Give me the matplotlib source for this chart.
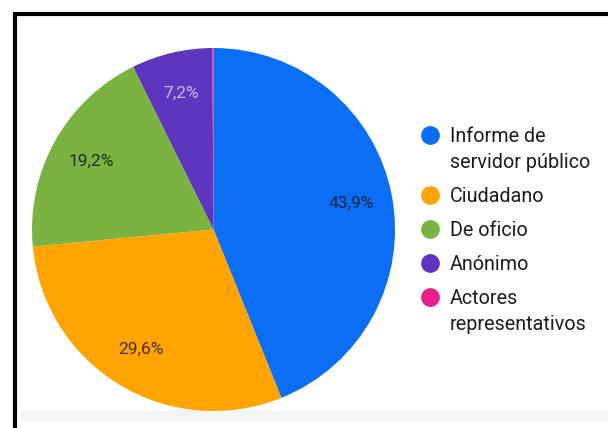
import matplotlib
matplotlib.use("Agg")
from matplotlib import pyplot as plt
from matplotlib.lines import Line2D

plt.rcParams['font.family'] = ['Roboto', 'DejaVu Sans']

# data
categories = ['Informe de\nservidor público', 'Ciudadano', 'De oficio', 'Anónimo',
              'Actores\nrepresentativos']
shares = [43.9, 29.6, 19.2, 7.2, 0.1]
colors = ['#0b6ef5', '#ffa400', '#7ab33f', '#5d35bf', '#ec1e8c']
label_colors = ['#10254a', '#4a3000', '#1f2d10', '#cbbcf0', '#ffffff']

W, H = 608, 428
fig = plt.figure(figsize=(W / 100, H / 100), dpi=100)

# pie: centre (213.5, 229.5) px, radius 181.5 px
cx, cy, r = 213.5, 229.5, 181.5
ax = fig.add_axes([(cx - r) / W, (H - cy - r) / H, 2 * r / W, 2 * r / H])


def fmt(p):
    if p < 1:
        return ''
    return ('%.1f%%' % p).replace('.', ',')


wedges, texts, autotexts = ax.pie(shares, colors=colors, startangle=90, counterclock=False,
                                  autopct=fmt, pctdistance=0.77, radius=1,
                                  wedgeprops=dict(linewidth=0),
                                  textprops=dict(fontsize=12.5))
for t, c in zip(autotexts, label_colors):
    t.set_color(c)
ax.set_xlim(-1, 1)
ax.set_ylim(-1, 1)
ax.set_aspect('auto')
ax.axis('off')

# overlay axes in pixel coordinates for frame and legend
ov = fig.add_axes([0, 0, 1, 1], zorder=-1)
ov.set_xlim(0, W)
ov.set_ylim(H, 0)
ov.axis('off')
ov.plot([14.5, 14.5], [H, 13], color='black', lw=3, solid_capstyle='butt')
ov.plot([13, W], [13.5, 13.5], color='black', lw=3, solid_capstyle='butt')
ov.fill_between([21, W], 410, 421, color='#f4f4f4', lw=0)

lg = fig.add_axes([0, 0, 1, 1])
lg.set_xlim(0, W)
lg.set_ylim(H, 0)
lg.axis('off')
base = [142, 202, 236, 270, 304]
for name, col, y in zip(categories, colors, base):
    lg.add_line(Line2D([429.5], [y - 7.5], marker='o', markersize=13.5, color=col,
                       markeredgewidth=0))
    for k, line in enumerate(name.split('\n')):
        lg.text(450, y + k * 26.5, line, fontsize=14.2, color='#1c1c1c',
                ha='left', va='baseline')

fig.savefig('out.png', dpi=100)
